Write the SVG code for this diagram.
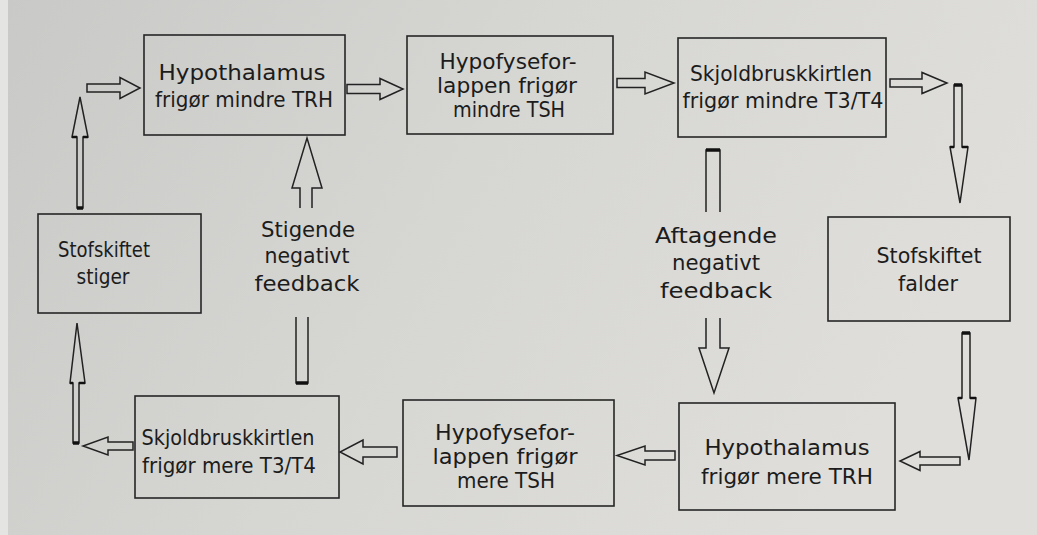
<svg xmlns="http://www.w3.org/2000/svg" width="1037" height="535" viewBox="0 0 1037 535">
  <defs>
    <linearGradient id="paper" x1="0" y1="0" x2="1" y2="0.3">
      <stop offset="0" stop-color="#c9c9c7"/>
      <stop offset="0.5" stop-color="#d6d6d3"/>
      <stop offset="1" stop-color="#dfdedb"/>
    </linearGradient>
    <style>
      .box { fill: none; stroke: #262626; stroke-width: 1.6; }
      .arr { fill: none; stroke: #222; stroke-width: 1.5; stroke-linejoin: miter; }
      .cap { stroke: #111; stroke-width: 3.5; fill: none; }
      .jn { stroke: #111; stroke-width: 2.6; fill: none; }
      text { font-family: "DejaVu Sans", "Liberation Sans", sans-serif; font-size: 22px; fill: #1c1c1c; text-anchor: middle; }
    </style>
  </defs>

  <rect x="0" y="0" width="1037" height="535" fill="url(#paper)"/>
  <rect x="0" y="0" width="8" height="535" fill="#e4e4e2"/>

  <g id="connectors">
    <!-- Stofskiftet stiger -> up -->
    <path class="arr" d="M77,208 L77,137 L72,137 L80,97 L88,137 L83,137 L83,208 Z"/>
    <line class="cap" x1="77" y1="208" x2="83" y2="208"/>
    <path class="jn" d="M72,137 L77,137 M83,137 L88,137"/>
    <!-- -> Hypothalamus mindre -->
    <path class="arr" d="M87,84 L120,84 L120,77.5 L140,88 L120,98.5 L120,92 L87,92 Z"/>
    <!-- Hypothalamus -> Hypofyse -->
    <path class="arr" d="M347,84.5 L380,84.5 L380,78.5 L403,89 L380,99.5 L380,93.5 L347,93.5 Z"/>
    <!-- Hypofyse -> Skjoldbrusk -->
    <path class="arr" d="M617,78.5 L645,78.5 L645,72 L674,83 L645,94 L645,87.5 L617,87.5 Z"/>
    <!-- Skjoldbrusk -> right -->
    <path class="arr" d="M890,79 L922,79 L922,72.5 L947,83 L922,93.5 L922,87 L890,87 Z"/>
    <!-- down to Stofskiftet falder -->
    <path class="arr" d="M954,85 L954,147 L950,147 L960,203 L968,147 L962,147 L962,85 Z"/>
    <line class="cap" x1="954" y1="85" x2="962" y2="85"/>
    <path class="jn" d="M950,147 L954,147 M962,147 L968,147"/>
    <!-- down from Stofskiftet falder -->
    <path class="arr" d="M962,333 L962,398 L958,398 L969,460 L976,398 L970,398 L970,333 Z"/>
    <line class="cap" x1="962" y1="333" x2="970" y2="333"/>
    <path class="jn" d="M958,398 L962,398 M970,398 L976,398"/>
    <!-- -> Hypothalamus mere -->
    <path class="arr" d="M960,457 L920,457 L920,451.5 L900,461 L920,470.5 L920,465 L960,465 Z"/>
    <!-- Hypothalamus mere -> Hypofyse mere -->
    <path class="arr" d="M675,451 L645,451 L645,446 L617,455.5 L645,465 L645,460 L675,460 Z"/>
    <!-- Hypofyse mere -> Skjoldbrusk mere -->
    <path class="arr" d="M397,447 L363,447 L363,440 L340,452 L363,464 L363,457 L397,457 Z"/>
    <!-- Skjoldbrusk mere -> left -->
    <path class="arr" d="M133,442 L108,442 L108,437 L83,446 L108,455 L108,450 L133,450 Z"/>
    <!-- up to Stofskiftet stiger -->
    <path class="arr" d="M73,443 L73,383 L70,383 L77,323 L85,383 L79,383 L79,443 Z"/>
    <line class="cap" x1="73" y1="443" x2="79" y2="443"/>
    <path class="jn" d="M70,383 L73,383 M79,383 L85,383"/>
    <!-- Stigende negativt feedback (up) -->
    <path class="arr" d="M300,208 L300,188 L292,188 L307,138 L322,188 L312,188 L312,208"/>
    <path class="arr" d="M296,317 L296,383 L308,383 L308,317"/>
    <line class="cap" x1="296" y1="383" x2="308" y2="383"/>
    <!-- Aftagende negativt feedback (down) -->
    <path class="arr" d="M706,212 L706,150 L720,150 L720,212"/>
    <line class="cap" x1="706" y1="150" x2="720" y2="150"/>
    <path class="arr" d="M706,318 L706,348 L699,348 L714,393 L729,348 L720,348 L720,318"/>
  </g>

  <g id="n1">
    <rect class="box" x="144" y="35" width="201" height="100"/>
    <text x="242" y="80" textLength="167" lengthAdjust="spacingAndGlyphs">Hypothalamus</text>
    <text x="244" y="107" textLength="178" lengthAdjust="spacingAndGlyphs">frigør mindre TRH</text>
  </g>
  <g id="n2">
    <rect class="box" x="407" y="36" width="206" height="98"/>
    <text x="508" y="69" textLength="137" lengthAdjust="spacingAndGlyphs">Hypofysefor-</text>
    <text x="507" y="93" textLength="140" lengthAdjust="spacingAndGlyphs">lappen frigør</text>
    <text x="509" y="117" textLength="112" lengthAdjust="spacingAndGlyphs">mindre TSH</text>
  </g>
  <g id="n3">
    <rect class="box" x="678" y="38" width="208" height="99"/>
    <text x="781" y="81" textLength="182" lengthAdjust="spacingAndGlyphs">Skjoldbruskkirtlen</text>
    <text x="783" y="108" textLength="201" lengthAdjust="spacingAndGlyphs">frigør mindre T3/T4</text>
  </g>
  <g id="n4">
    <rect class="box" x="828" y="217" width="182" height="104"/>
    <text x="929" y="263" textLength="105" lengthAdjust="spacingAndGlyphs">Stofskiftet</text>
    <text x="928" y="291" textLength="60" lengthAdjust="spacingAndGlyphs">falder</text>
  </g>
  <g id="n5">
    <rect class="box" x="679" y="403" width="216" height="107"/>
    <text x="787" y="455" textLength="165" lengthAdjust="spacingAndGlyphs">Hypothalamus</text>
    <text x="787" y="484" textLength="172" lengthAdjust="spacingAndGlyphs">frigør mere TRH</text>
  </g>
  <g id="n6">
    <rect class="box" x="403" y="400" width="211" height="106"/>
    <text x="505" y="440" textLength="140" lengthAdjust="spacingAndGlyphs">Hypofysefor-</text>
    <text x="505" y="464" textLength="145" lengthAdjust="spacingAndGlyphs">lappen frigør</text>
    <text x="506" y="488" textLength="98" lengthAdjust="spacingAndGlyphs">mere TSH</text>
  </g>
  <g id="n7">
    <rect class="box" x="135" y="396" width="204" height="102"/>
    <text x="228" y="445" textLength="173" lengthAdjust="spacingAndGlyphs">Skjoldbruskkirtlen</text>
    <text x="229" y="473" textLength="174" lengthAdjust="spacingAndGlyphs">frigør mere T3/T4</text>
  </g>
  <g id="n8">
    <rect class="box" x="38" y="214" width="163" height="99"/>
    <text x="104" y="257" textLength="92" lengthAdjust="spacingAndGlyphs">Stofskiftet</text>
    <text x="103" y="284" textLength="53" lengthAdjust="spacingAndGlyphs">stiger</text>
  </g>
  <g id="label-stigende">
    <text x="308" y="237" textLength="94" lengthAdjust="spacingAndGlyphs">Stigende</text>
    <text x="307" y="263" textLength="85" lengthAdjust="spacingAndGlyphs">negativt</text>
    <text x="307" y="291" textLength="105" lengthAdjust="spacingAndGlyphs">feedback</text>
  </g>
  <g id="label-aftagende">
    <text x="716" y="243" textLength="122" lengthAdjust="spacingAndGlyphs">Aftagende</text>
    <text x="716" y="270" textLength="88" lengthAdjust="spacingAndGlyphs">negativt</text>
    <text x="716" y="298" textLength="112" lengthAdjust="spacingAndGlyphs">feedback</text>
  </g>
</svg>
